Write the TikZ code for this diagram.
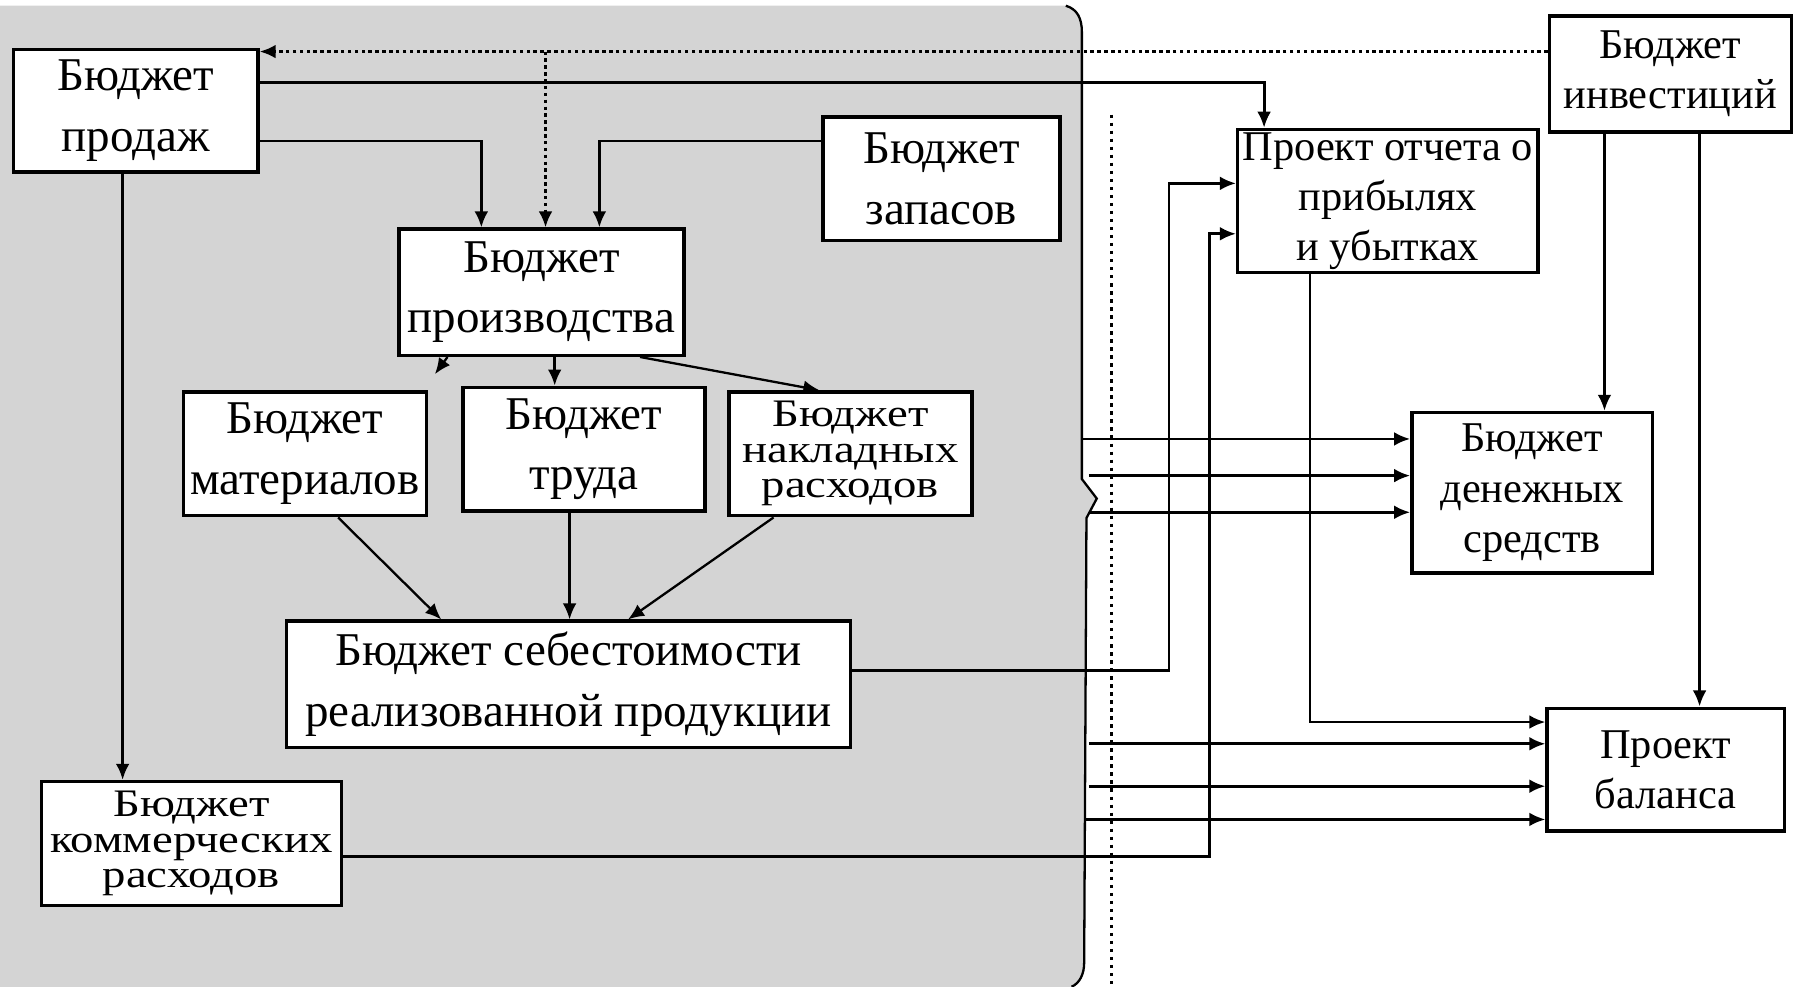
\documentclass[tikz,border=0pt]{standalone}
\usepackage{fontspec}
\setmainfont{Liberation Serif}
\newfontfamily\widefont[FakeStretch=1.2]{Liberation Serif}
\usetikzlibrary{arrows.meta,calc}
\definecolor{shadegray}{RGB}{212,212,212}
\tikzset{
  box/.style={draw, line width=3pt, fill=white, align=center, inner sep=0pt},
  lf/.style={font=\fontsize{41}{53}\selectfont},
  lft/.style={font=\widefont\fontsize{34}{31}\selectfont},
  rf/.style={font=\fontsize{37}{44}\selectfont},
  arr/.style={line width=2.5pt, -{Latex[length=14pt,width=12pt]}},
  thinarr/.style={line width=2pt, -{Latex[length=14pt,width=12pt]}},
  dotarr/.style={line width=2.5pt, dash pattern=on 3pt off 3pt, -{Latex[length=14pt,width=12pt]}},
  dotline/.style={line width=2.5pt, dash pattern=on 3pt off 4pt},
  braceline/.style={line width=2pt}
}
\begin{document}
\begin{tikzpicture}[x=1pt,y=-1pt]
\useasboundingbox (0,0) rectangle (1568,861);
% shaded area with brace-like right edge
\fill[shadegray] (0,5) -- (930,5) .. controls (940,8) and (944,16) .. (944,28) -- (944,418) -- (957,435) -- (948,452) -- (946,840) .. controls (946,850) and (942,858) .. (935,861) -- (0,861) -- cycle;
\draw[braceline] (930,5) .. controls (940,8) and (944,16) .. (944,28) -- (944,418) -- (957,435) -- (948,452) -- (946,840) .. controls (946,850) and (942,858) .. (935,861);
\draw[dotline] (970,100) -- (970,861);

% nodes
\node[box, lf, minimum width=213pt, minimum height=107pt] (prod) at (118.5,96.5) {Бюджет\\продаж};
\node[box, lf, minimum width=207pt, minimum height=108pt] (zap) at (821.5,156) {Бюджет\\запасов};
\node[box, lf, minimum width=249pt, minimum height=110pt] (proizv) at (472.5,255) {Бюджет\\производства};
\node[box, lf, minimum width=212pt, minimum height=108pt] (mat) at (266,396) {Бюджет\\материалов};
\node[box, lf, minimum width=211pt, minimum height=108pt] (trud) at (509.5,392) {Бюджет\\труда};
\node[box, lft, minimum width=212pt, minimum height=108pt] (nakl) at (742,396) {Бюджет\\накладных\\расходов};
\node[box, lf, minimum width=492pt, minimum height=110pt] (sebest) at (496,597) {Бюджет себестоимости\\реализованной продукции};
\node[box, lft, minimum width=262pt, minimum height=108pt] (komm) at (167,736) {Бюджет\\коммерческих\\расходов};
\node[box, rf, minimum width=211pt, minimum height=101pt] (invest) at (1457.5,64.5) {Бюджет\\инвестиций};
\node[box, rf, minimum width=262pt, minimum height=125pt] (otchet) at (1211,175.5) {Проект отчета о\\прибылях\\и убытках};
\node[box, rf, minimum width=210pt, minimum height=140pt] (den) at (1337,430) {Бюджет\\денежных\\средств};
\node[box, rf, minimum width=207pt, minimum height=107pt] (bal) at (1453.5,671.5) {Проект\\баланса};

% helper coordinates
\coordinate (j1) at (476,45);
\coordinate (b1) at (945,383);
\coordinate (b2) at (950,415);
\coordinate (b3) at (950,447);
\coordinate (b4) at (950,649);
\coordinate (b5) at (950,686);
\coordinate (b6) at (946,715);

% connectors
\draw[dotarr] (invest.west |- 0,45) -- (prod.east |- 0,45);
\draw[dotarr] (j1) -- (proizv.north -| j1);
\draw[arr] (prod.east |- 0,72) -| (otchet.north -| 1103,0);
\draw[arr] (prod.east |- 0,123) -| (proizv.north -| 420,0);
\draw[arr] (zap.west |- 0,123) -| (proizv.north -| 523,0);
\draw[arr] (prod.south -| 107,0) -- (komm.north -| 107,0);
\draw[thinarr] ($(proizv.south west)+(44,0)$) -- ($(mat.north east)+(6,-14)$);
\draw[arr] (proizv.south -| 484,0) -- (trud.north -| 484,0);
\draw[thinarr] ($(proizv.south west)+(212,0)$) -- (nakl.north -| 715,0);
\draw[thinarr] (mat.south -| 295,0) -- (sebest.north -| 385,0);
\draw[thinarr] (trud.south -| 497,0) -- (sebest.north -| 497,0);
\draw[thinarr] (nakl.south -| 675,0) -- (sebest.north -| 548,0);
\draw[arr] (sebest.east |- 0,585) -- (1020,585) |- (otchet.west |- 0,160);
\draw[arr] (komm.east |- 0,747) -- (1055,747) |- (otchet.west |- 0,204);
\draw[arr] (otchet.south -| 1143,0) |- (bal.west |- 0,630);
\draw[arr] (invest.south -| 1400,0) -- (den.north -| 1400,0);
\draw[arr] (invest.south -| 1483,0) -- (bal.north -| 1483,0);
\draw[arr] (b1) -- (den.west |- b1);
\draw[arr] (b2) -- (den.west |- b2);
\draw[arr] (b3) -- (den.west |- b3);
\draw[arr] (b4) -- (bal.west |- b4);
\draw[arr] (b5) -- (bal.west |- b5);
\draw[arr] (b6) -- (bal.west |- b6);
\end{tikzpicture}
\end{document}
